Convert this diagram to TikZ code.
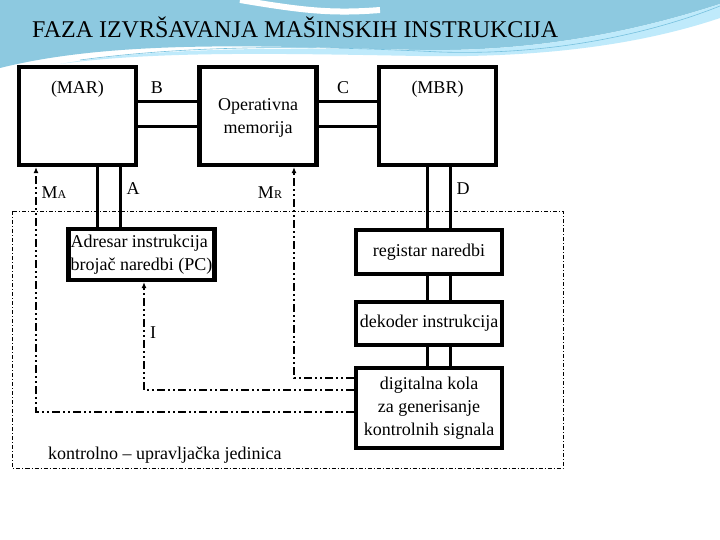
\documentclass[tikz,border=0pt]{standalone}
\usepackage{fontspec}
\setmainfont{Liberation Serif}
\usetikzlibrary{positioning,arrows.meta}
\tikzset{
  bigbox/.style={draw, line width=4.2pt, minimum width=117pt, minimum height=98pt, inner sep=0pt},
  unitbox/.style={draw, line width=4.2pt, minimum width=146pt, align=center, inner sep=2pt},
  bus/.style={line width=3pt},
  signal/.style={line width=2.1pt, dash pattern=on 8pt off 3pt on 2pt off 3pt on 2pt off 3pt, -{Latex[length=6pt,width=5pt]}},
  frame/.style={line width=0.9pt, dash pattern=on 4pt off 2pt on 1pt off 2pt},
  tag/.style={font=\fontsize{18}{21}\selectfont, inner sep=0pt}
}
\begin{document}
\begin{tikzpicture}[x=1pt, y=-1pt, every node/.style={font=\fontsize{18}{23}\selectfont}]
  \useasboundingbox (0,0) rectangle (720,540);
  % header band
  \fill[cyan!55!teal!50!white] (0,0) -- (720,0) -- (720,4)
    .. controls (640,30) and (540,52) .. (420,50)
    .. controls (280,47) and (120,38) .. (0,68) -- cycle;
  \fill[cyan!25!white] (420,50) .. controls (540,52) and (640,30) .. (720,4) -- (720,18)
    .. controls (640,45) and (540,58) .. (420,56) .. controls (300,54) and (160,50) .. (60,64)
    .. controls (160,46) and (300,48) .. cycle;
  \draw[white, line width=6pt] (240,0) .. controls (300,10) and (330,14) .. (380,10);
  \draw[cyan!60!teal!60!white, line width=0.6pt] (80,60) .. controls (200,44) and (320,46) .. (440,52)
    .. controls (560,56) and (660,30) .. (720,6);
  \node[anchor=base west, font=\fontsize{24}{26}\selectfont, inner sep=0pt] (title) at (32,38)
    {FAZA IZVRŠAVANJA MAŠINSKIH INSTRUKCIJA};

  % upper row
  \node[bigbox, label={[anchor=north, yshift=-16pt, inner sep=0pt]north:(MAR)}] (mar) at (77.5,116) {};
  \node[bigbox, align=center, text depth=0pt] (mem) at (258,116) {Operativna\\memorija};
  \node[bigbox, label={[anchor=north, yshift=-16pt, inner sep=0pt]north:(MBR)}] (mbr) at (437.5,116) {};

  % control unit
  \draw[frame] (12.5,211) rectangle (563,468);
  \node[unitbox, minimum height=51pt, align=left, inner sep=1pt] (adresar) at (141.5,254.5)
    {Adresar instrukcija\\brojač naredbi (PC)};
  \node[unitbox, minimum height=44pt] (registar) at (429,252) {registar naredbi};
  \node[unitbox, minimum height=43pt] (dekoder) at (429,323.5) {dekoder instrukcija};
  \node[unitbox, minimum height=80pt] (digital) at (429,408) {digitalna kola\\za generisanje\\kontrolnih signala};
  \node[anchor=base west, inner sep=0pt] (cu) at (48,459) {kontrolno – upravljačka jedinica};

  % buses
  \foreach \dy in {14pt,-11pt} {
    \draw[bus] ([yshift=\dy]mar.east) -- ([yshift=\dy]mem.west);
    \draw[bus] ([yshift=\dy]mem.east) -- ([yshift=\dy]mbr.west);
  }
  \foreach \dx in {19.5pt,42.5pt}
    \draw[bus] ([xshift=\dx]mar.south) -- ([xshift=\dx]mar.south |- adresar.north);
  \foreach \dx in {-2pt,21pt} {
    \draw[bus] ([xshift=\dx]registar.north |- mbr.south) -- ([xshift=\dx]registar.north);
    \draw[bus] ([xshift=\dx]registar.south) -- ([xshift=\dx]dekoder.north);
    \draw[bus] ([xshift=\dx]dekoder.south) -- ([xshift=\dx]digital.north);
  }

  % control signals
  \draw[signal] ([yshift=-4pt]digital.west) -| ([xshift=-41.5pt]mar.south);
  \draw[signal] ([yshift=30pt]digital.west) -| ([xshift=36pt]mem.south);
  \draw[signal] ([yshift=18pt]digital.west) -| ([xshift=2.5pt]adresar.south);

  % labels
  \node[tag, anchor=base] (lb) at (157,94) {B};
  \node[tag, anchor=base] (lc) at (343,94) {C};
  \node[tag, anchor=base] (la) at (133,195) {A};
  \node[tag, anchor=base] (ld) at (463,195) {D};
  \node[tag, anchor=base] (lma) at (54,199) {M{\fontsize{12}{12}\selectfont A}};
  \node[tag, anchor=base] (lmr) at (270,199) {M{\fontsize{12}{12}\selectfont R}};
  \node[tag, anchor=base] (li) at (153,338) {I};
\end{tikzpicture}
\end{document}
